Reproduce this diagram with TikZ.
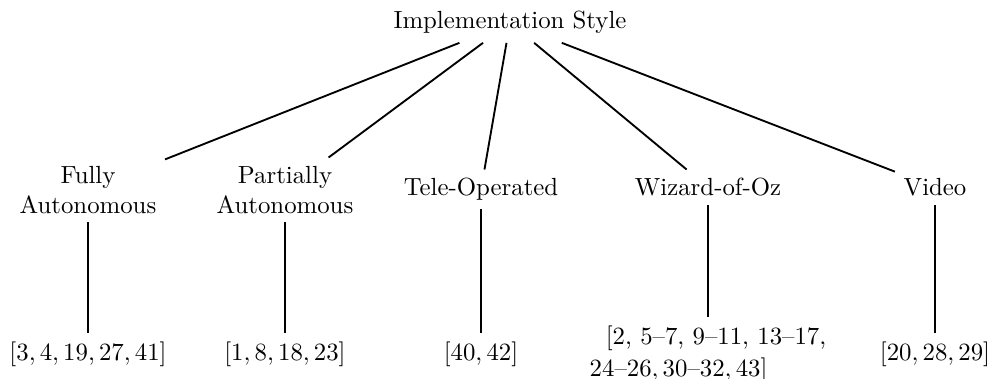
\documentclass[tikz,border=0pt]{standalone}
\begin{document}
\begin{tikzpicture}[x=0.4032pt, y=-0.4032pt,
  every node/.style={font=\normalsize},
  cat/.style={anchor=north, align=center},
  leaf/.style={anchor=north},
  branch/.style={line width=0.75pt}]
  \useasboundingbox (0,0) rectangle (988,379);

  % root
  \node[anchor=base] (root) at (510,29) {Implementation Style};

  % categories
  \node[cat] (fully) at (88,157.5) {Fully\\Autonomous};
  \node[cat] (partial) at (285,157.5) {Partially\\Autonomous};
  \node[cat] (tele) at (481,169.5) {Tele-Operated};
  \node[cat] (woz) at (708,169.5) {Wizard-of-Oz};
  \node[cat] (video) at (935,169.5) {Video};

  % references
  \node[leaf] (rfully) at (88,333) {$[3,4,19,27,41]$};
  \node[leaf] (rpartial) at (285,333) {$[1,8,18,23]$};
  \node[leaf] (rtele) at (481,333) {$[40,42]$};
  \node[leaf, align=left] (rwoz) at (708,317)
    {\hspace*{6.5pt}[2, 5--7, 9--11, 13--17,\\[0.8pt] $24$--$26, 30$--$32, 43]$};
  \node[leaf] (rvideo) at (935,333) {$[20,28,29]$};

  % branches
  \foreach \c in {fully,partial,tele,woz,video}
    \draw[branch] (root) -- (\c);
  \draw[branch] (fully) -- (rfully);
  \draw[branch] (partial) -- (rpartial);
  \draw[branch] (tele) -- (rtele);
  \draw[branch] (woz) -- (rwoz);
  \draw[branch] (video) -- (rvideo);
\end{tikzpicture}
\end{document}
